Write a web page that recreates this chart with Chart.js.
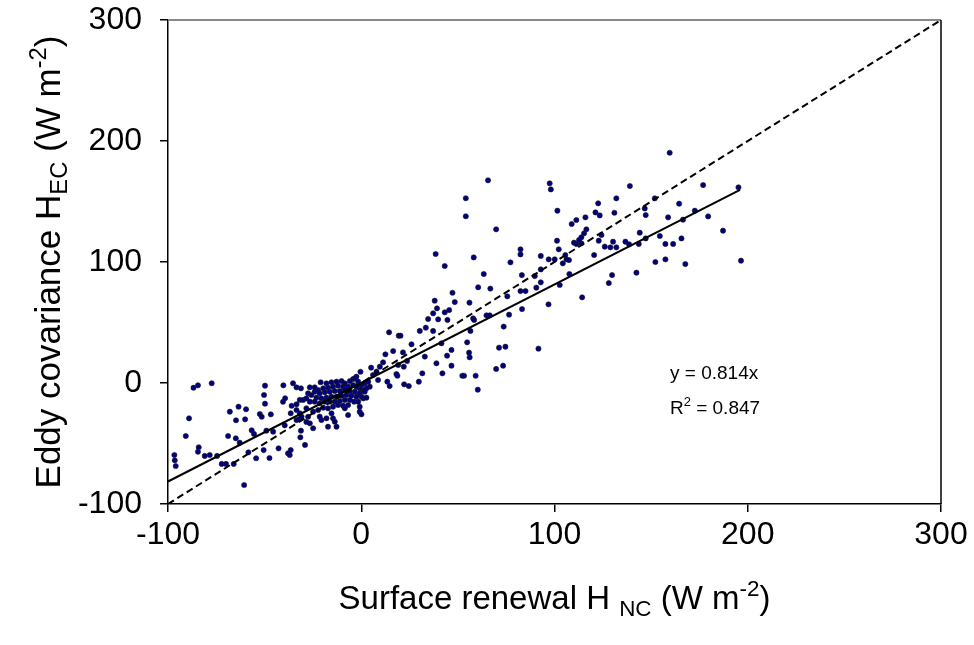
<!DOCTYPE html>
<html><head><meta charset="utf-8">
<script src="https://cdn.jsdelivr.net/npm/chart.js@4.4.1/dist/chart.umd.min.js"></script>
<style>html,body{margin:0;padding:0;background:#fff;} canvas{display:block;}</style>
</head><body>
<canvas id="c" width="974" height="645"></canvas>
<script>
const xTicks = [-100, 0, 100, 200, 300];
const yTicks = [-100, 0, 100, 200, 300];

// Surface renewal H_NC (x) and eddy covariance H_EC (y), W m-2
const hNC = [
 -96.7,-96.5,-96.0,-90.8,-89.1,-86.8,-84.5,-77.4,-84.1,-84.5,-81.0,-78.4,-74.6,-72.2,-70.0,-66.0,
 -68.9,-64.9,-62.9,-68.0,-63.5,-64.8,-60.1,-59.6,-60.6,-58.4,-56.7,-55.5,-54.4,-52.5,-51.5,-50.5,
 -47.5,-49.8,-50.3,-49.8,-49.1,-45.6,-46.8,-42.8,-40.3,-40.5,-39.4,-39.6,-37.9,-36.5,-37.0,-35.3,
 -33.5,-36.0,-33.5,-36.5,-33.5,-31.2,-31.8,-30.1,-32.2,-31.2,-31.5,-29.1,-28.4,-27.5,-28.4,-24.9,
 -21.0,-24.1,-26.6,-0.4,-2.5,-4.2,6.1,7.9,-18.0,-15.4,-12.8,-10.2,-8.5,-5.9,-3.3,-1.6,
 0.1,1.8,3.6,4.4,2.7,1.0,-0.8,-2.5,-4.2,-6.8,-9.4,-12.0,-14.6,-17.2,-19.7,-22.3,
 -24.1,-21.5,-18.9,-16.3,-13.7,-11.1,-8.5,-5.9,-3.3,-0.8,1.8,0.1,-2.5,-5.1,-7.7,-10.2,
 -12.8,-15.4,-18.0,-20.6,-23.2,-25.8,-27.5,-28.4,-26.6,-24.1,-21.5,-18.9,-16.3,-13.7,-11.1,-8.5,
 -5.9,-3.7,-1.6,-6.8,-9.4,-12.0,-14.6,-17.2,-19.7,-22.3,-24.9,-33.5,-31.8,-30.9,-26.6,-21.5,
 -20.6,-18.0,-15.4,-14.6,-13.7,-17.2,-12.8,-8.5,-6.8,-0.8,-0.8,1.0,2.7,0.1,
 38.0,39.2,37.2,43.2,44.6,39.8,34.6,33.4,30.3,37.2,41.5,44.4,32.9,26.0,21.6,19.4,
 20.3,14.4,16.5,12.5,11.3,9.6,5.1,19.1,22.0,23.7,38.9,31.6,42.0,18.2,18.7,13.5,
 14.7,22.2,24.6,29.8,8.7,60.3,
 69.8,38.5,43.2,58.2,63.4,60.5,66.8,47.2,48.4,45.5,46.7,46.7,54.8,55.8,56.1,56.5,
 56.0,57.9,58.4,64.8,66.5,52.3,53.2,59.2,69.8,73.4,71.3,74.6,73.7,76.5,75.6,83.2,
 82.4,85.0,83.1,77.2,82.4,82.4,89.8,90.6,92.9,92.9,92.9,97.0,100.1,96.9,91.7,102.7,
 107.7,104.3,102.2,101.3,106.2,107.5,
 159.6,97.5,98.1,139.0,176.9,195.2,101.5,122.6,132.0,121.2,123.4,131.0,151.9,146.7,147.2,164.5,
 172.6,179.5,158.8,166.5,108.9,111.3,116.0,116.5,115.3,113.9,112.7,110.1,111.3,113.9,124.3,122.9,
 126.0,128.9,130.3,132.0,136.7,138.6,144.1,143.6,147.2,154.5,157.4,161.4,165.7,187.2,196.5,167.7,
 157.4,152.2,142.4,129.8,128.1,120.5,114.3,105.6,65.6,54.1,54.1
];
const hEC = [
 -59.5,-63.9,-68.6,-43.8,-29.2,-3.9,-1.9,-0.2,-53.1,-56.8,-60.3,-59.5,-60.3,-66.9,-66.9,-66.9,
 -43.8,-45.7,-49.3,-23.7,-19.6,-30.8,-30.0,-21.7,-84.3,-57.3,-39.1,-42.1,-62.2,-25.6,-27.9,-55.4,
 -62.0,-2.2,-9.9,-17.1,-39.4,-40.2,-25.9,-54.0,-1.9,-15.5,-12.6,-35.0,-58.1,-55.4,-59.5,-0.2,
 -3.6,-18.8,-17.6,-25.0,-30.6,-4.4,-14.0,-14.0,-30.0,-39.4,-44.9,-51.2,-20.9,-27.9,-32.2,-37.4,
 0.6,-3.6,-3.6,9.3,5.2,3.3,6.6,9.4,-0.3,0.6,1.1,1.6,-0.3,1.6,3.9,1.1,
 -1.7,-0.3,1.1,-3.0,-4.4,-5.8,-4.4,-3.0,-1.7,-3.0,-3.0,-2.2,-3.0,-3.9,-4.4,-5.8,
 -7.2,-8.5,-7.7,-7.2,-6.6,-6.6,-5.8,-6.6,-7.2,-8.5,-7.2,-11.3,-11.3,-10.5,-9.9,-10.5,
 -11.3,-11.3,-12.1,-12.7,-12.1,-9.9,-8.5,-12.7,-15.4,-15.4,-16.8,-15.4,-15.4,-15.4,-14.9,-14.0,
 -14.0,-15.4,-15.4,-18.2,-18.7,-18.2,-19.6,-20.9,-20.4,-22.3,-23.7,-22.3,-25.1,-27.8,-33.3,-27.8,
 -30.6,-29.2,-25.1,-29.2,-32.0,-36.1,-36.1,-20.9,-26.5,-19.6,-23.7,-12.7,-12.1,-25.9,
 68.0,61.7,57.6,58.4,52.1,52.6,52.9,45.7,43.0,43.0,32.8,22.6,21.8,32.0,25.3,39.1,
 39.1,41.9,26.4,23.7,17.1,13.5,12.7,14.9,13.5,18.2,16.3,8.0,8.0,7.4,6.0,1.1,
 -2.5,-1.1,-2.5,1.1,2.5,-5.5,
 127.0,106.6,96.7,103.8,90.1,79.1,78.0,74.6,66.9,60.3,27.3,14.3,33.6,25.1,21.2,43.0,
 66.4,53.4,52.1,55.9,55.9,6.0,6.0,6.0,11.6,14.3,29.2,30.0,46.6,56.5,71.6,61.1,
 76.0,76.0,89.2,99.7,110.5,106.3,88.4,78.8,93.9,83.2,105.0,102.2,102.2,65.0,28.4,81.0,
 90.1,98.9,110.5,117.6,102.2,101.6,
 190.3,165.0,160.0,162.8,163.6,161.7,142.4,148.5,152.6,141.0,138.5,140.7,152.6,144.3,138.8,148.2,
 142.4,137.7,136.9,135.0,131.4,134.7,136.9,127.0,123.7,120.4,118.2,116.0,114.9,115.4,122.3,117.6,
 112.7,112.1,116.8,112.1,116.8,114.6,124.2,114.9,119.5,121.5,114.9,114.9,119.5,125.9,101.1,98.3,
 102.2,100.0,91.2,89.2,82.6,105.8,70.8,105.8,167.5,152.7,137.8
];

const fitSlope = 0.814;
const fitR2 = 0.847;
const fitXRange = [-100, 196];
const oneToOneRange = [-100, 300];

const FONT = '"Liberation Sans", Arial, Helvetica, sans-serif';
const TICK_SIZE = 32, XT_SIZE = 33, YT_SIZE = 35, ANN_SIZE = 19;

function drawRich(ctx, segs, x, y, base) {
  for (const s of segs) {
    const k = s.k || 1;
    ctx.font = (base * k) + 'px ' + FONT;
    ctx.fillText(s.t, x, y + (s.dy || 0) * base);
    x += ctx.measureText(s.t).width;
  }
}
function richWidth(ctx, segs, base) {
  let w = 0;
  for (const s of segs) { ctx.font = (base * (s.k || 1)) + 'px ' + FONT; w += ctx.measureText(s.t).width; }
  return w;
}

const framePlugin = {
  id: 'frame',
  afterDatasetsDraw(chart) {
    const {ctx, chartArea: a} = chart;
    ctx.save();
    ctx.strokeStyle = '#888'; ctx.lineWidth = 2;
    ctx.beginPath(); ctx.moveTo(a.left, a.top); ctx.lineTo(a.right, a.top); ctx.stroke();
    ctx.strokeStyle = '#000'; ctx.lineWidth = 1.5;
    ctx.beginPath(); ctx.moveTo(a.right, a.top); ctx.lineTo(a.right, a.bottom); ctx.stroke();
    ctx.restore();
  }
};

const textPlugin = {
  id: 'texts',
  afterDraw(chart) {
    const {ctx, chartArea: a} = chart;
    ctx.save();
    ctx.fillStyle = '#000';
    ctx.textBaseline = 'alphabetic';
    ctx.textAlign = 'left';
    // x title
    const xs = [{t:'Surface renewal H '},{t:'NC',k:0.68,dy:0.22},{t:' (W m'},{t:'-2',k:0.68,dy:-0.4},{t:')'}];
    const xw = richWidth(ctx, xs, XT_SIZE);
    drawRich(ctx, xs, (a.left + a.right) / 2 - xw / 2, 609, XT_SIZE);
    // y title
    const ys = [{t:'Eddy covariance H'},{t:'EC',k:0.68,dy:0.2},{t:' (W m'},{t:'-2',k:0.68,dy:-0.4},{t:')'}];
    const yw = richWidth(ctx, ys, YT_SIZE);
    ctx.translate(60, (a.top + a.bottom) / 2);
    ctx.rotate(-Math.PI / 2);
    drawRich(ctx, ys, -yw / 2, 0, YT_SIZE);
    ctx.setTransform(1,0,0,1,0,0);
    // annotation
    drawRich(ctx, [{t:'y = ' + fitSlope.toFixed(3) + 'x'}], 670, 379, ANN_SIZE);
    drawRich(ctx, [{t:'R'},{t:'2',k:0.68,dy:-0.4},{t:' = ' + fitR2.toFixed(3)}], 670, 414, ANN_SIZE);
    ctx.restore();
  }
};

new Chart(document.getElementById('c').getContext('2d'), {
  type: 'scatter',
  data: {
    datasets: [
      { label: 'obs', data: hNC.map((x, i) => ({x: x, y: hEC[i]})),
        backgroundColor: '#000080', borderColor: '#1a1a1a', borderWidth: 0.6, pointRadius: 2.6, order: 1 },
      { label: 'fit', type: 'line', data: fitXRange.map(x => ({x: x, y: fitSlope * x})),
        borderColor: '#000', borderWidth: 2, pointRadius: 0, fill: false, order: 0 },
      { label: '1:1', type: 'line', data: oneToOneRange.map(x => ({x: x, y: x})),
        borderColor: '#000', borderWidth: 2, borderDash: [7, 4], pointRadius: 0, fill: false, order: 0 }
    ]
  },
  options: {
    responsive: false, animation: false,
    layout: { padding: { top: 20, right: 33, left: 0, bottom: 0 } },
    plugins: { legend: { display: false }, tooltip: { enabled: false } },
    scales: {
      x: {
        type: 'linear', min: xTicks[0], max: xTicks[xTicks.length - 1],
        afterBuildTicks: s => { s.ticks = xTicks.map(v => ({value: v})); },
        ticks: { font: { family: FONT, size: TICK_SIZE }, color: '#000', padding: 4, maxRotation: 0, callback: v => String(v) },
        grid: { drawOnChartArea: false, drawTicks: true, tickLength: 8, color: '#000', lineWidth: 1.5 },
        border: { display: true, color: '#000', width: 1.5 },
        afterFit: s => { s.height = 141; s.paddingLeft = 0; s.paddingRight = 0; }
      },
      y: {
        type: 'linear', min: yTicks[0], max: yTicks[yTicks.length - 1],
        afterBuildTicks: s => { s.ticks = yTicks.map(v => ({value: v})); },
        ticks: { font: { family: FONT, size: TICK_SIZE }, color: '#000', padding: 18, callback: v => String(v) },
        grid: { drawOnChartArea: false, drawTicks: true, tickLength: 8, color: '#000', lineWidth: 1.5 },
        border: { display: true, color: '#000', width: 1.5 },
        afterFit: s => { s.width = 168; s.paddingTop = 0; s.paddingBottom = 0; }
      }
    }
  },
  plugins: [framePlugin, textPlugin]
});
</script>
</body></html>
